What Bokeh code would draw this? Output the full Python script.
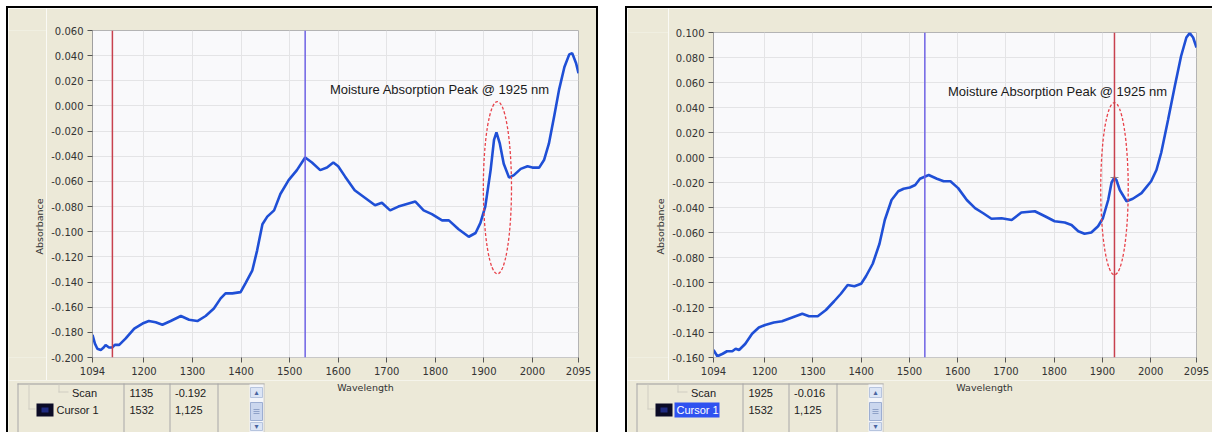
from bokeh.plotting import figure
from bokeh.models import Range1d, FixedTicker, NumeralTickFormatter, Span, Label, BoxAnnotation, Spacer, Div
from bokeh.layouts import row, column
from bokeh.embed import file_html
from bokeh.resources import INLINE

# ---------------- data ----------------
x_ticks = [1094, 1200, 1300, 1400, 1500, 1600, 1700, 1800, 1900, 2000, 2095]

left_y_ticks = [-0.200, -0.180, -0.160, -0.140, -0.120, -0.100, -0.080, -0.060,
                -0.040, -0.020, 0.000, 0.020, 0.040, 0.060]
right_y_ticks = [-0.160, -0.140, -0.120, -0.100, -0.080, -0.060, -0.040, -0.020,
                 0.000, 0.020, 0.040, 0.060, 0.080, 0.100]

left_wavelength = [1094, 1099, 1104, 1111, 1117, 1121, 1128, 1135, 1140, 1149, 1162, 1180,
                   1197, 1210, 1224, 1238, 1255, 1276, 1293, 1310, 1327, 1344, 1358, 1368,
                   1382, 1399, 1409, 1423, 1433, 1444, 1454, 1468, 1481, 1498, 1515, 1532,
                   1546, 1563, 1577, 1590, 1600, 1614, 1634, 1655, 1676, 1690, 1707, 1724,
                   1759, 1776, 1793, 1814, 1828, 1848, 1869, 1883, 1893, 1903, 1914, 1921,
                   1926, 1933, 1941, 1952, 1962, 1976, 1990, 2000, 2014, 2024, 2034, 2045,
                   2055, 2066, 2076, 2082, 2090, 2095]
left_absorbance = [-0.182, -0.189, -0.193, -0.194, -0.192, -0.190, -0.192, -0.192, -0.190,
                   -0.190, -0.185, -0.177, -0.173, -0.171, -0.172, -0.174, -0.171, -0.167,
                   -0.170, -0.171, -0.167, -0.161, -0.153, -0.149, -0.149, -0.148, -0.141,
                   -0.131, -0.115, -0.094, -0.088, -0.083, -0.070, -0.059, -0.051, -0.041,
                   -0.045, -0.051, -0.049, -0.045, -0.048, -0.056, -0.067, -0.073, -0.079,
                   -0.077, -0.083, -0.080, -0.076, -0.083, -0.086, -0.091, -0.091, -0.098,
                   -0.104, -0.101, -0.093, -0.080, -0.051, -0.027, -0.021, -0.030, -0.046,
                   -0.057, -0.055, -0.050, -0.048, -0.049, -0.049, -0.043, -0.030, -0.008,
                   0.013, 0.031, 0.041, 0.042, 0.034, 0.026]

right_wavelength = [1094, 1102, 1113, 1122, 1133, 1140, 1147, 1160, 1174, 1188, 1201, 1219,
                    1236, 1257, 1278, 1292, 1310, 1327, 1344, 1358, 1372, 1386, 1400, 1410,
                    1424, 1438, 1449, 1463, 1477, 1488, 1501, 1512, 1522, 1540, 1557, 1571,
                    1585, 1601, 1619, 1636, 1653, 1670, 1691, 1712, 1732, 1760, 1781, 1801,
                    1822, 1836, 1850, 1863, 1877, 1891, 1901, 1912, 1919, 1925, 1929, 1936,
                    1950, 1963, 1981, 2001, 2012, 2022, 2036, 2050, 2063, 2074, 2081, 2088,
                    2095]
right_absorbance = [-0.154, -0.159, -0.157, -0.155, -0.155, -0.153, -0.154, -0.149, -0.141,
                    -0.136, -0.134, -0.132, -0.131, -0.128, -0.125, -0.127, -0.127, -0.122,
                    -0.115, -0.109, -0.102, -0.103, -0.101, -0.095, -0.085, -0.069, -0.050,
                    -0.034, -0.027, -0.025, -0.024, -0.022, -0.017, -0.014, -0.017, -0.019,
                    -0.019, -0.0245, -0.034, -0.0405, -0.0446, -0.049, -0.0486, -0.050,
                    -0.044, -0.043, -0.047, -0.051, -0.052, -0.054, -0.059, -0.061, -0.060,
                    -0.055, -0.0486, -0.034, -0.020, -0.016, -0.018, -0.026, -0.035, -0.033,
                    -0.0285, -0.019, -0.010, 0.004, 0.030, 0.057, 0.081, 0.096, 0.0995,
                    0.096, 0.088]

# cursor readouts (table values)
left_scan_cursor = 1135
left_scan_value = "-0.192"
right_scan_cursor = 1925
right_scan_value = "-0.016"
cursor1_position = 1532
cursor1_value = "1,125"

note_text = "Moisture Absorption Peak @ 1925 nm"
x_title = "Wavelength"
y_title = "Absorbance"

# ---------------- styling ----------------
BEIGE = "#ECE9D8"
CURVE = "#1F4FD6"
VIOLET = "#6E62E4"
RED = "#C8414E"
TICK_FONT = "DejaVu Sans"
TABLE_FONT = "Liberation Sans"

TOP_H = 372     # strip + main figure height
TABLE_H = 52    # cursor table strip height
EDGE = 2        # black panel border width
PANEL_H = TOP_H + TABLE_H


def blank(w, h, color, bt=0, bb=0):
    f = figure(width=w, height=h, output_backend="svg", toolbar_location=None, title=None,
               x_axis_type=None, y_axis_type=None,
               x_range=Range1d(0, w), y_range=Range1d(0, h - bt - bb),
               min_border=0, min_border_left=0, min_border_right=0,
               min_border_top=bt, min_border_bottom=bb)
    f.background_fill_color = color
    f.border_fill_color = color
    f.outline_line_color = None
    return f


def black_bar(w, h):
    return Div(text="", width=w, height=h, margin=0,
               styles={"background-color": "#000000"})


def box(f, l, r, t, b, fill=None, line=None, lw=1):
    f.add_layout(BoxAnnotation(left=l, right=r, top=t, bottom=b,
                               fill_color=fill if fill else "#000000",
                               fill_alpha=1.0 if fill else 0.0,
                               line_color=line if line else "#000000",
                               line_alpha=1.0 if line else 0.0,
                               line_width=lw))


def text(f, x, y, s, size="11px", font=TABLE_FONT, color="#202020", align="left", angle=0):
    f.add_layout(Label(x=x, y=y, text=s, text_font=font, text_font_size=size,
                       text_color=color, text_align=align, text_baseline="middle",
                       angle=angle, angle_units="deg"))


def main_plot(wl, ab, y_ticks, scan_cursor, scan_value, ellipse, note_xy,
              width, b_left, b_right, b_top, frame_h, highlight):
    b_bottom = TOP_H - b_top - frame_h
    p = figure(width=width, height=TOP_H, output_backend="svg", toolbar_location=None,
               title=None,
               x_range=Range1d(x_ticks[0], x_ticks[-1]),
               y_range=Range1d(y_ticks[0], y_ticks[-1]),
               min_border_left=b_left, min_border_right=b_right,
               min_border_top=b_top, min_border_bottom=b_bottom)
    p.background_fill_color = "#F9F9FB"
    p.border_fill_color = BEIGE
    p.outline_line_color = "#B4B4B4"
    p.outline_line_width = 1

    p.xaxis.ticker = FixedTicker(ticks=x_ticks)
    p.yaxis.ticker = FixedTicker(ticks=y_ticks)
    p.yaxis.formatter = NumeralTickFormatter(format="0.000")
    p.axis.minor_tick_line_color = None
    p.axis.major_tick_in = 0
    p.axis.major_tick_out = 5
    p.axis.major_tick_line_color = "#555555"
    p.axis.major_label_text_font = TICK_FONT
    p.axis.major_label_text_font_size = "10px"
    p.axis.major_label_text_color = "#333333"
    p.axis.major_label_standoff = 4
    p.yaxis.axis_line_color = "#A0A0A0"
    p.xaxis.axis_line_color = "#C8C8C8"
    p.grid.grid_line_color = "#E4E4E6"
    p.grid.grid_line_width = 1

    p.add_layout(Span(location=cursor1_position, dimension="height",
                      line_color=VIOLET, line_width=1.5))
    p.add_layout(Span(location=scan_cursor, dimension="height",
                      line_color=RED, line_width=1.5))

    p.line(wl, ab, line_color=CURVE, line_width=2.6)

    if highlight:
        p.scatter([scan_cursor], [float(scan_value)], marker="cross", size=8,
                  line_color="#8A8A8A", line_width=1)

    ex, ey, ew, eh = ellipse
    p.ellipse(x=[ex], y=[ey], width=ew, height=eh, fill_color=None,
              line_color="#E8424A", line_dash="3 2", line_width=1.3)

    p.add_layout(Label(x=note_xy[0], y=note_xy[1], text=note_text,
                       text_font="Liberation Sans", text_font_size="13px",
                       text_color="#1A1A1A", text_align="left",
                       text_baseline="middle"))
    return p


def y_title_strip(width, label_x, b_top, frame_h):
    # same top/bottom borders as the neighbouring plot, so the frames line up
    f = blank(width, TOP_H, BEIGE, bt=b_top, bb=TOP_H - b_top - frame_h)
    text(f, label_x, 131, y_title, size="9.5px",
         font=TICK_FONT, color="#333333", align="center", angle=90)
    return f


def table_strip(width, scan_cursor, scan_value, highlight):
    f = blank(width, TABLE_H, BEIGE)
    top = 49
    # frame lines of the cursor table
    box(f, 9, 256, top, top - 1, fill="#9C9C9C")
    box(f, 9, 10, top, 0, fill="#A8A8A8")
    for cx in (115, 161, 209):
        box(f, cx, cx + 1, top, 0, fill="#A8A8A8")
    box(f, 255, 256, top, 0, fill="#C4C4C4")
    # faint tree lines
    box(f, 20, 21, top - 1, 23, fill="#D0CEC2")
    box(f, 20, 27, 24, 23, fill="#D0CEC2")
    box(f, 50, 51, top - 1, 40, fill="#D0CEC2")
    box(f, 50, 60, 41, 40, fill="#D0CEC2")
    # scrollbar
    box(f, 241, 255, top - 1, 0, fill="#F3F5FA")
    box(f, 242, 254, 45, 35, fill="#DCE5F5", line="#B6C4DE")
    box(f, 242, 254, 30, 12, fill="#CBD7EE", line="#9CAED2")
    box(f, 242, 254, 10, 2, fill="#DCE5F5", line="#B6C4DE")
    text(f, 248, 40, "\u25b4", size="8px", font=TICK_FONT, color="#4A64A0", align="center")
    text(f, 248, 6, "\u25be", size="8px", font=TICK_FONT, color="#4A64A0", align="center")
    for ty in (23, 21, 19):
        box(f, 245, 251, ty + 0.5, ty - 0.5, fill="#8FA2C8")
    # row 1: Scan
    text(f, 76, 40, "Scan", align="center")
    text(f, 121, 40, str(scan_cursor))
    text(f, 166.5, 40, scan_value)
    # row 2: Cursor 1
    box(f, 28, 45, 29, 16, fill="#0B0B26")
    box(f, 33, 40, 25, 20, fill="#1E2A80")
    if highlight:
        box(f, 47, 92, 30, 15, fill="#2F52F0")
        text(f, 49, 23, "Cursor 1", color="#FFFFFF")
    else:
        text(f, 48, 23, "Cursor 1")
    text(f, 121, 23, str(cursor1_position))
    text(f, 166.5, 23, cursor1_value)
    # x-axis title
    text(f, 357, 45, x_title, size="9.5px", font=TICK_FONT, color="#333333", align="center")
    return f


main_left = main_plot(left_wavelength, left_absorbance, left_y_ticks,
                      left_scan_cursor, left_scan_value,
                      (1928, -0.065, 58, 0.137), (1583, 0.013),
                      width=550, b_left=46, b_right=18, b_top=22, frame_h=327,
                      highlight=False)
main_right = main_plot(right_wavelength, right_absorbance, right_y_ticks,
                       right_scan_cursor, right_scan_value,
                       (1925, -0.025, 57, 0.138), (1580, 0.053),
                       width=544, b_left=45, b_right=16, b_top=24, frame_h=325,
                       highlight=True)

inner_left = column(row(y_title_strip(38, 31, 22, 327), main_left),
                    table_strip(588, left_scan_cursor, left_scan_value, False))
inner_right = column(row(y_title_strip(41, 33, 24, 325), main_right),
                     table_strip(585, right_scan_cursor, right_scan_value, True))

left_panel = column(black_bar(592, EDGE),
                    row(black_bar(EDGE, PANEL_H), inner_left, black_bar(EDGE, PANEL_H)))
right_panel = column(black_bar(587, EDGE),
                     row(black_bar(EDGE, PANEL_H), inner_right))

layout = column(Spacer(width=1212, height=6),
                row(Spacer(width=6, height=PANEL_H + EDGE), left_panel,
                    Spacer(width=27, height=PANEL_H + EDGE), right_panel))

open("out.html", "w").write(file_html(layout, INLINE))
